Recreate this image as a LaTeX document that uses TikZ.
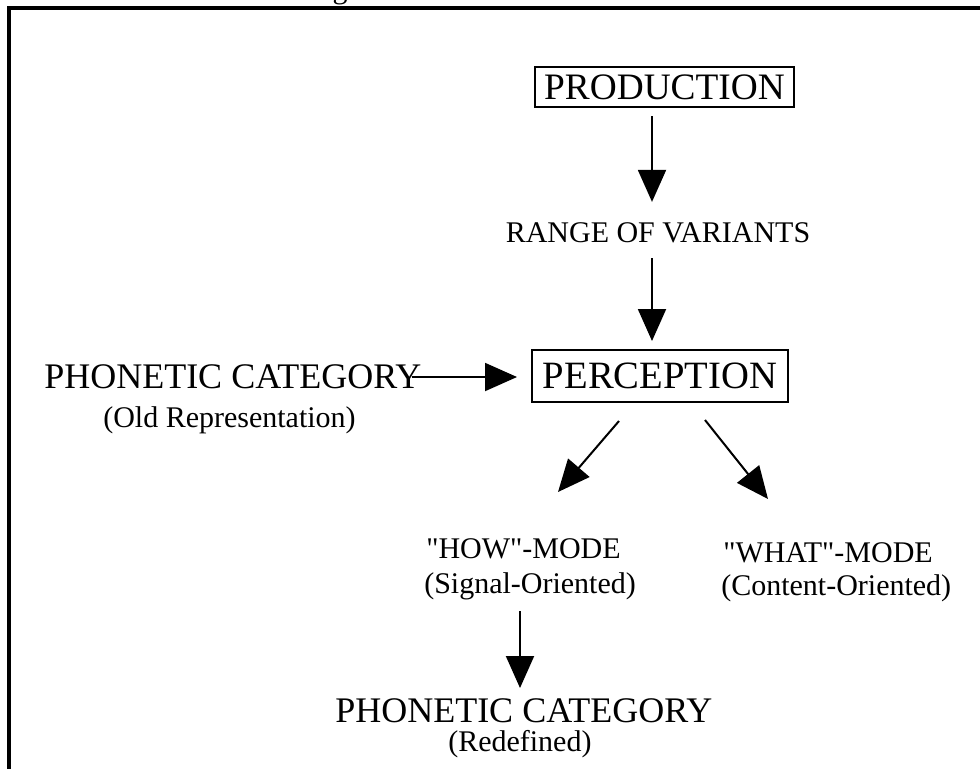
\documentclass[tikz,border=0pt]{standalone}
\usepackage{fontspec}
\setmainfont{Liberation Serif}[Ligatures=TeXOff]
\usetikzlibrary{arrows.meta}

\tikzset{
  big/.style={font=\fontsize{27pt}{30pt}\selectfont, inner sep=0pt},
  mid/.style={font=\fontsize{22.5pt}{26pt}\selectfont, inner sep=0pt},
  framed/.style={draw, line width=1.5pt, inner sep=0pt},
  flow/.style={line width=1.5pt,
    -{Triangle[length=24pt,width=21pt]}},
  frame line/.style={line width=2.3pt}
}

\begin{document}
\begin{tikzpicture}[x=0.75pt,y=-0.75pt]
  \useasboundingbox (0,0) rectangle (980,769);

  % frame along the top and left edges
  \coordinate (fr1) at (980,8);
  \coordinate (fr2) at (9,8);
  \coordinate (fr3) at (9,769);
  \draw[frame line] (fr1) -- (fr2) -- (fr3);

  % descender of a caption line above the frame
  \node[mid, anchor=base] (capg) at (340,-2) {g};

  % boxed stages
  \node[framed, font=\fontsize{28pt}{31pt}\selectfont,
        minimum width=194.25pt, minimum height=30pt] (prod) at (664.5,87) {PRODUCTION};
  \node[framed, font=\fontsize{29pt}{32pt}\selectfont,
        minimum width=192pt, minimum height=39pt] (perc) at (660,376) {PERCEPTION};

  % plain labels
  \node[mid, anchor=base] (range) at (658,242) {RANGE OF VARIANTS};
  \node[big, anchor=base west] (phonL) at (44,388) {PHONETIC CATEGORY};
  \node[mid, anchor=base west] (oldrep) at (103,427) {(Old Representation)};
  \node[mid, anchor=base west] (how) at (426,558) {"HOW"-MODE};
  \node[mid, anchor=base west] (howsub) at (424,593) {(Signal-Oriented)};
  \node[mid, anchor=base west] (what) at (723,562) {"WHAT"-MODE};
  \node[mid, anchor=base west] (whatsub) at (721,595) {(Content-Oriented)};
  \node[big, anchor=base west] (phonB) at (335,722) {PHONETIC CATEGORY};
  \node[mid, anchor=base west] (redef) at (448,751) {(Redefined)};

  % connectors (free ends placed relative to the labels they point at)
  \draw[flow] ([shift={(-12.5,8)}]prod.south) -- ([shift={(-6,-20)}]range.north);
  \draw[flow] ([shift={(-6,16)}]range.base) -- ([shift={(-8,-8)}]perc.north);
  \draw[flow] ([shift={(-10,-11)}]phonL.base east) -- ([shift={(-14,1)}]perc.west);
  \draw[flow] ([shift={(-41,18)}]perc.south) -- ([shift={(132,-66)}]how.base west);
  \draw[flow] ([shift={(45,17)}]perc.south) -- ([shift={(45,-63)}]what.base west);
  \draw[flow] ([shift={(96,18)}]howsub.base west) -- ([shift={(185,-34)}]phonB.base west);
\end{tikzpicture}
\end{document}
